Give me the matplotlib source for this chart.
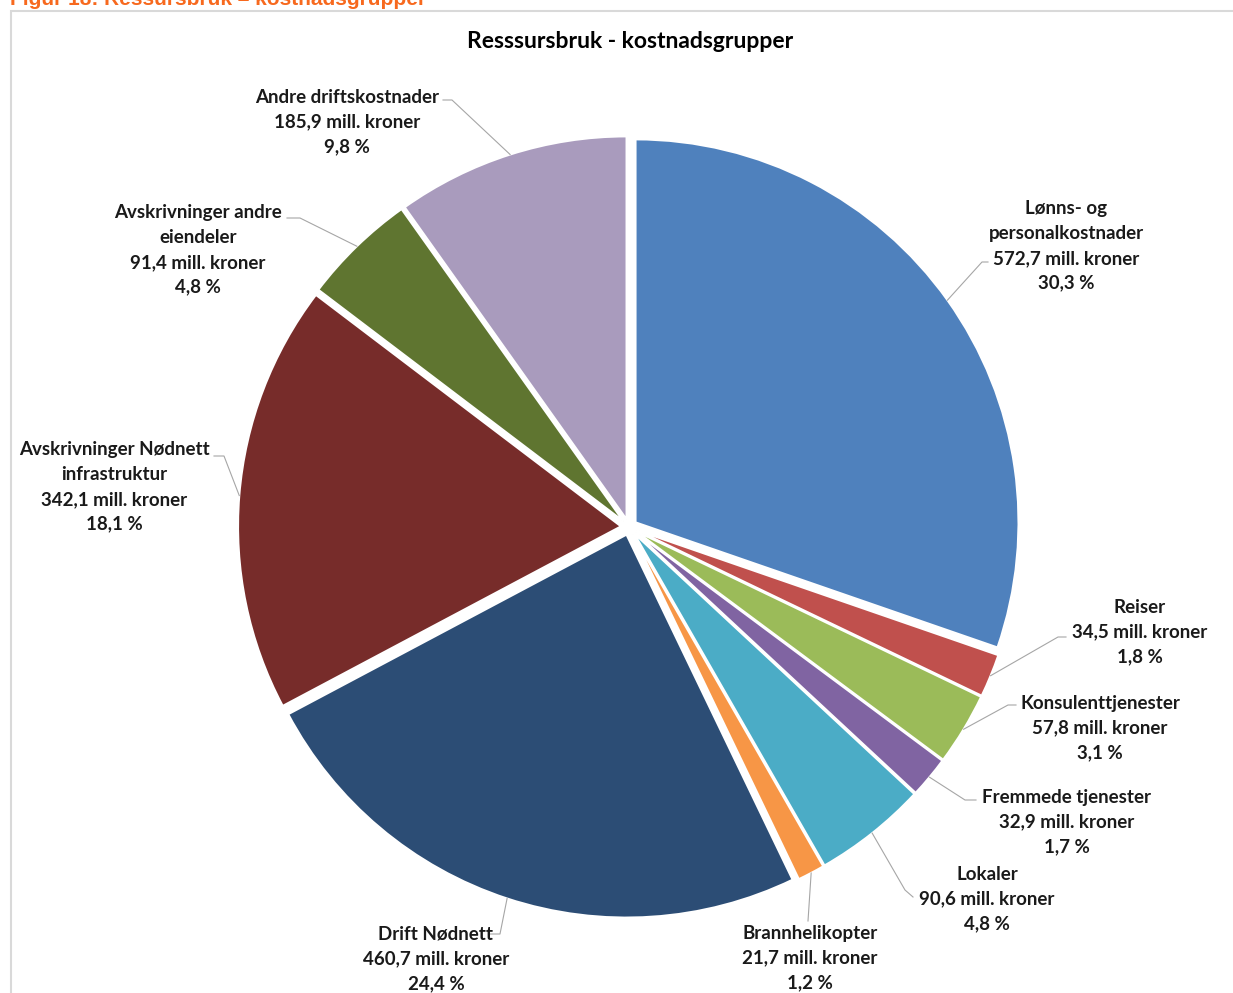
import numpy as np
import matplotlib.pyplot as plt
from matplotlib.patches import Rectangle

# data (mill. kroner), clockwise from 12 o'clock
names = ["Lønns- og\npersonalkostnader", "Reiser", "Konsulenttjenester",
         "Fremmede tjenester", "Lokaler", "Brannhelikopter", "Drift Nødnett",
         "Avskrivninger Nødnett\ninfrastruktur", "Avskrivninger andre\neiendeler",
         "Andre driftskostnader"]
values = [572.7, 34.5, 57.8, 32.9, 90.6, 21.7, 460.7, 342.1, 91.4, 185.9]
value_txt = ["572,7", "34,5", "57,8", "32,9", "90,6", "21,7", "460,7", "342,1", "91,4", "185,9"]
pct_txt = ["30,3", "1,8", "3,1", "1,7", "4,8", "1,2", "24,4", "18,1", "4,8", "9,8"]
colors = ["#4F81BD", "#C0504D", "#9BBB59", "#8064A2", "#4BACC6", "#F79646",
          "#2C4D75", "#772C2A", "#5F7530", "#A99BBD"]

W, H = 1233, 993
fig = plt.figure(figsize=(W / 100, H / 100), dpi=100)
ax = fig.add_axes([0, 0, 1, 1])

cx, cy, R = 629, H - 527, 383
off = 8  # explode distance in pixels
wedges, _ = ax.pie(values, colors=colors, startangle=90, counterclock=False,
                   center=(cx, cy), radius=R, explode=[off] * len(values),
                   wedgeprops=dict(edgecolor="white", linewidth=1.5))
ax.set_xlim(0, W)
ax.set_ylim(0, H)
ax.set_axis_off()

FONT = "Lato"
# label layout (pixel coords, y down): text centre x, centre y, leader p1, p2
layout = [
    (1066, 246, (988, 262), (982, 262)),
    (1140, 632, (1066, 637), (1058, 637)),
    (1100, 728, (1016, 705), (1008, 705)),
    (1067, 822, (976, 800), (965, 800)),
    (987, 899, (913, 897), (905, 890)),
    (810, 958, (808, 921), (808, 921)),
    (436, 959, (490, 934), (500, 934)),
    (114, 487, (214, 456), (224, 456)),
    (198, 250, (287, 218), (300, 218)),
    (347, 122, (443, 100), (452, 100)),
]

total = sum(values)
cum = np.cumsum([0] + values[:-1])
for i, (name, v) in enumerate(zip(names, values)):
    mid = np.deg2rad(90 - 360 * (cum[i] + v / 2) / total)
    ra = R + off
    ax_, ay_ = cx + ra * np.cos(mid), cy + ra * np.sin(mid)
    tx, ty, p1, p2 = layout[i]
    ax.plot([p1[0], p2[0], ax_], [H - p1[1], H - p2[1], ay_],
            color="#A6A6A6", lw=0.8, zorder=1)
    label = f"{name}\n{value_txt[i]} mill. kroner\n{pct_txt[i]} %"
    ax.text(tx, H - ty, label, ha="center", va="center", fontsize=13.5,
            fontweight="bold", family=FONT, linespacing=1.55, color="#1A1A1A")

ax.text(630, H - 41, "Resssursbruk - kostnadsgrupper", ha="center", va="center",
        fontsize=16.5, fontweight="bold", family=FONT, color="black")

# chart frame and cut-off figure caption
fig.patches.append(Rectangle((11 / W, -0.01), (W - 11) / W + 0.01, (H - 11) / H + 0.01,
                             transform=fig.transFigure, fill=False,
                             edgecolor="#D9D9D9", lw=1.5))
fig.text(10 / W, 1 - 5 / H, "Figur 18: Ressursbruk – kostnadsgrupper", ha="left",
         va="baseline", fontsize=15, fontweight="bold", family="Liberation Sans",
         color="#F7691E")

fig.savefig("out.png", dpi=100)
